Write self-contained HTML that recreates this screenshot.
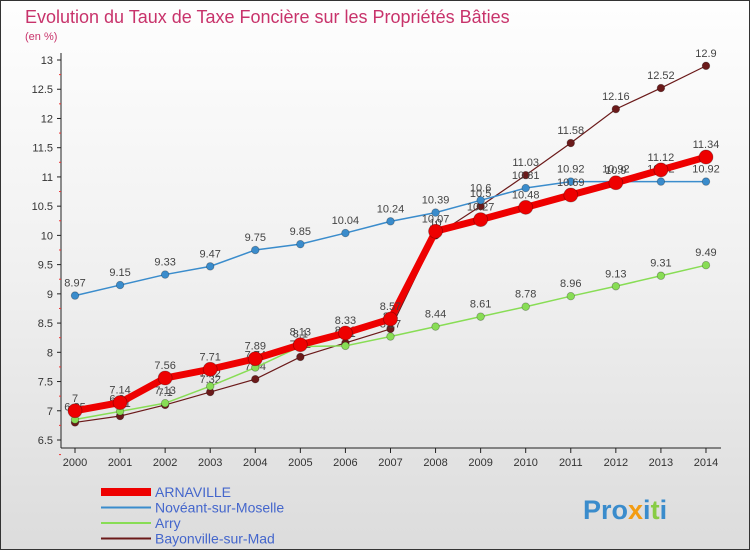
<!DOCTYPE html>
<html><head><meta charset="utf-8"><style>
body{margin:0;width:750px;height:550px;overflow:hidden;font-family:"Liberation Sans",sans-serif}
#wrap{position:relative;width:748px;height:548px;border:1px solid #333;background:linear-gradient(#fefefe,#f0f0f0 50%,#dcdcdc)}
</style></head><body>
<div id="wrap">
<svg id="chart" width="748" height="548"></svg>
</div>
<script>
const years=[2000,2001,2002,2003,2004,2005,2006,2007,2008,2009,2010,2011,2012,2013,2014];
const arnaville=[7,7.14,7.56,7.71,7.89,8.13,8.33,8.57,10.07,10.27,10.48,10.69,10.9,11.12,11.34];
const noveant=[8.97,9.15,9.33,9.47,9.75,9.85,10.04,10.24,10.39,10.6,10.81,10.92,10.92,10.92,10.92];
const arry=[6.85,6.99,7.13,7.42,7.74,8.1,8.11,8.27,8.44,8.61,8.78,8.96,9.13,9.31,9.49];
const bayonville=[6.8,6.91,7.1,7.32,7.54,7.92,8.16,8.4,10,10.5,11.03,11.58,12.16,12.52,12.9];
const yTicks=[6.5,7,7.5,8,8.5,9,9.5,10,10.5,11,11.5,12,12.5,13];
const NS="http://www.w3.org/2000/svg";
const svg=document.getElementById('chart');
function X(i){return 74+i*45.07;}
function Y(v){return 439-(v-6.5)*58.46;}
function mk(t,a,p){const e=document.createElementNS(NS,t);for(const k in a)e.setAttribute(k,a[k]);(p||svg).appendChild(e);return e;}
function txt(x,y,s,a){const e=mk('text',Object.assign({x:x,y:y},a));e.textContent=s;return e;}
let t=txt(24,22,'Evolution du Taux de Taxe Foncière sur les Propriétés Bâties',{fill:'#c8336b','font-size':18});


t=txt(24,39,'(en %)',{fill:'#c8336b','font-size':11});


// axes
let ax=mk('line',{x1:60,y1:52,x2:60,y2:447,stroke:'#222'});


ax=mk('line',{x1:60,y1:447,x2:720,y2:447,stroke:'#222'});


yTicks.forEach(v=>{
 mk('line',{x1:56,y1:Y(v),x2:60,y2:Y(v),stroke:'#222'});
 mk('line',{x1:58,y1:Y(v)+14.6,x2:60,y2:Y(v)+14.6,stroke:'#e33'});
 const l=txt(52,Y(v)+4,String(v),{fill:'#333','font-size':11,'text-anchor':'end'});
 
 
});
years.forEach((y,i)=>{
 mk('line',{x1:X(i),y1:447,x2:X(i),y2:452,stroke:'#222'});
 const l=txt(X(i),465,String(y),{fill:'#333','font-size':11,'text-anchor':'middle'});
 
 
});
function series(data,color,w,r,name){
 const g=mk('g',{});
 
 
 mk('polyline',{points:data.map((v,i)=>X(i)+','+Y(v)).join(' '),fill:'none',stroke:color,'stroke-width':w},g);
 data.forEach((v,i)=>{
  const c=mk('circle',{cx:X(i),cy:Y(v),r:r,fill:color,stroke:'rgba(0,0,0,0.3)','stroke-width':0.8},g);
  
  
  const l=txt(X(i),Y(v)-9,String(v),{fill:'#444','font-size':11,'text-anchor':'middle'},g);
  
  
 });
}
series(bayonville,'#6b1a1a',1.2,3.8,'bayonville-series');
series(arry,'#88dd55',1.5,3.8,'arry-series');
series(noveant,'#3a8ccc',1.5,3.8,'noveant-series');
series(arnaville,'#ee0000',7,7,'arnaville-series');
// legend
const leg=[['ARNAVILLE','#ee0000',8],['Novéant-sur-Moselle','#3a8ccc',2],['Arry','#88dd55',2],['Bayonville-sur-Mad','#6b1a1a',2]];
leg.forEach((l,i)=>{
 const g=mk('g',{});
 
 
 const y=491+i*15.5;
 mk('line',{x1:100,y1:y,x2:150,y2:y,stroke:l[1],'stroke-width':l[2]},g);
 txt(154,y+5,l[0],{fill:'#4466cc','font-size':14},g);
});
const lg=txt(582,518,'',{'font-size':27,'font-weight':'bold'});


[['Pro','#3a8ccc'],['x','#f39c12'],['i','#3a8ccc'],['t','#88cc44'],['i','#3a8ccc']].forEach(p=>{const s=mk('tspan',{fill:p[1]},lg);s.textContent=p[0];});
</script>
</body></html>
